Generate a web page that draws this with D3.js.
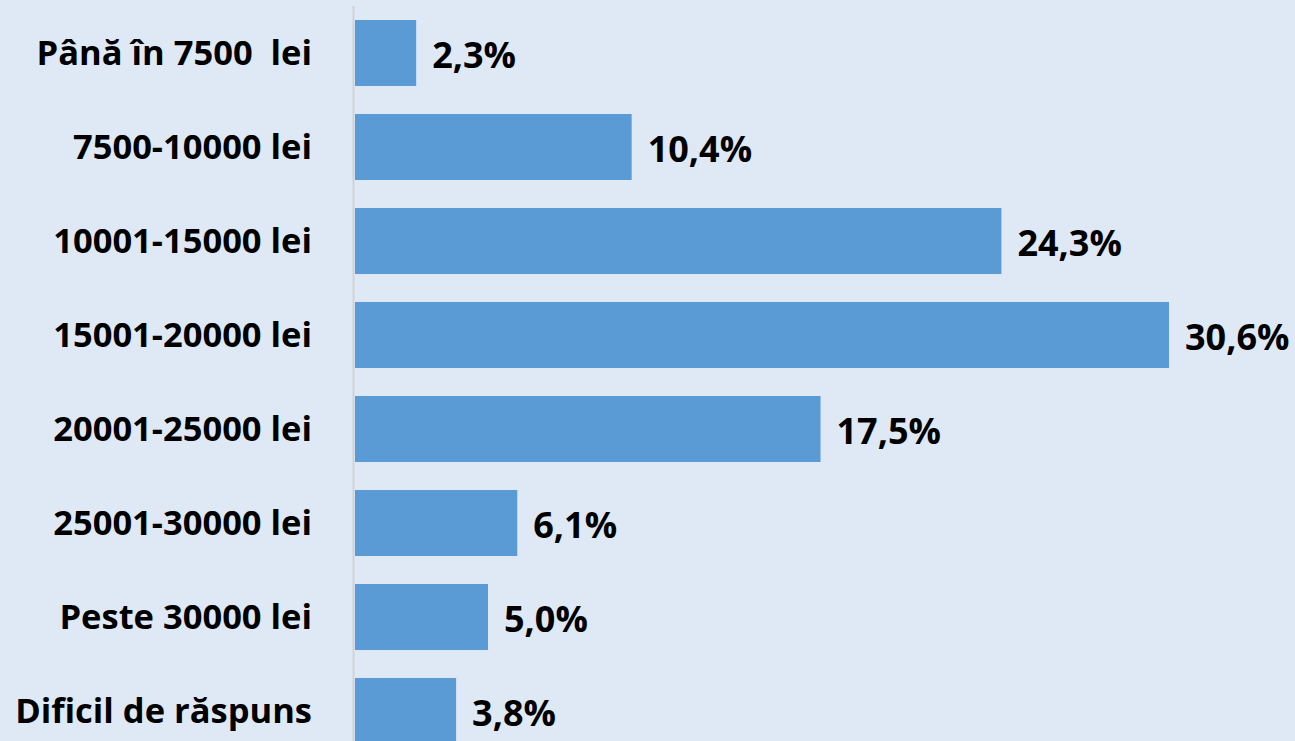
<!DOCTYPE html>
<html>
<head>
<meta charset="utf-8">
<script src="https://cdn.jsdelivr.net/npm/d3@7.9.0/dist/d3.min.js"></script>
<style>
  html, body { margin: 0; padding: 0; background: #dee9f5; }
  svg { display: block; }
  text { font-family: "Open Sans", Lato, sans-serif; font-weight: 700; fill: #000; white-space: pre; }
</style>
</head>
<body>
<div id="chart"></div>
<script>
const categories = [
  'Până în 7500  lei',
  '7500-10000 lei',
  '10001-15000 lei',
  '15001-20000 lei',
  '20001-25000 lei',
  '25001-30000 lei',
  'Peste 30000 lei',
  'Dificil de răspuns',
];
const values = [2.3, 10.4, 24.3, 30.6, 17.5, 6.1, 5.0, 3.8];

const width = 1295;
const height = 741;

const svg = d3
  .select('#chart')
  .append('svg')
  .attr('width', width)
  .attr('height', height);

svg.append('rect').attr('width', width).attr('height', height).attr('fill', '#dee9f5');

// zero at 355px, 30.6% lands at ~1169px
const x = d3.scaleLinear().domain([0, 30.6]).range([355, 1169]);

const y = d3
  .scaleBand()
  .domain(categories)
  .range([6, 6 + 94 * categories.length])
  .paddingInner(0.298)
  .paddingOuter(0.149);

svg
  .append('line')
  .attr('x1', 353.5)
  .attr('x2', 353.5)
  .attr('y1', 6)
  .attr('y2', height)
  .attr('stroke', '#cfd3d8')
  .attr('stroke-width', 2);

svg
  .append('g')
  .selectAll('rect')
  .data(values)
  .join('rect')
  .attr('x', x(0))
  .attr('y', (d, i) => y(categories[i]))
  .attr('width', (d) => x(d) - x(0))
  .attr('height', y.bandwidth())
  .attr('fill', '#5b9bd5');

const fmt = (d) => d.toFixed(1).replace('.', ',') + '%';

svg
  .append('g')
  .selectAll('text')
  .data(values)
  .join('text')
  .attr('x', (d) => x(d) + 16)
  .attr('y', (d, i) => y(categories[i]) + y.bandwidth() / 2 + 15)
  .attr('font-size', 36)
  .text(fmt);

svg
  .append('g')
  .selectAll('text')
  .data(categories)
  .join('text')
  .attr('x', 312)
  .attr('y', (d) => y(d) + y.bandwidth() / 2 + 12)
  .attr('text-anchor', 'end')
  .attr('font-size', 34.5)
  .text((d) => d);
</script>
</body>
</html>
